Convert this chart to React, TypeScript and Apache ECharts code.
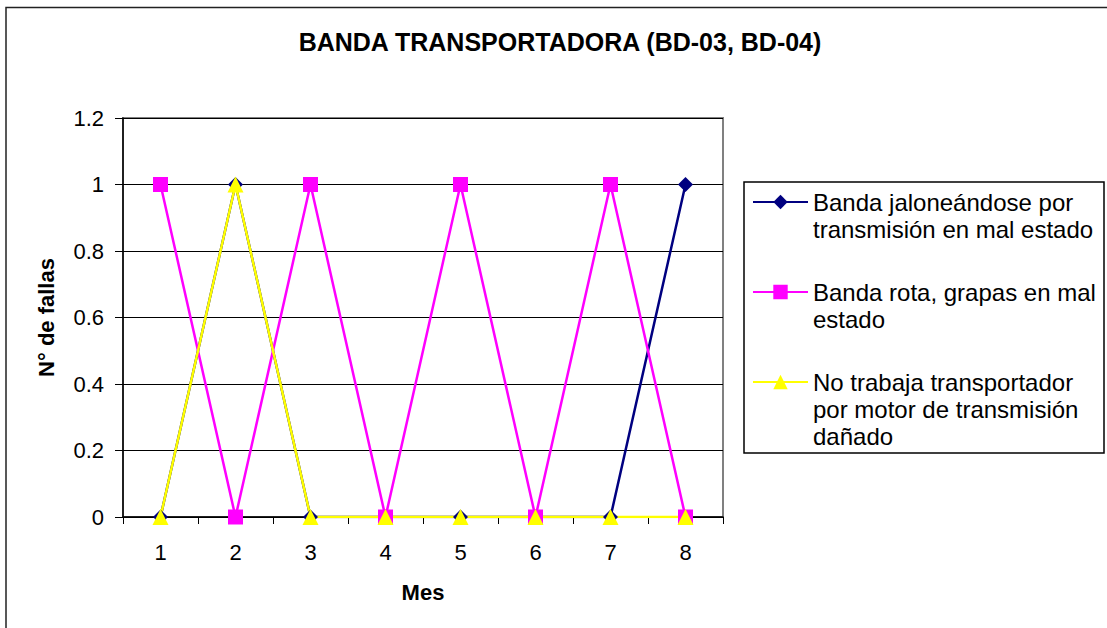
import React, { useEffect, useRef } from "react";
import * as echarts from "echarts";

const months = ["1", "2", "3", "4", "5", "6", "7", "8"];
const seriesNames = [
  "Banda jaloneándose por transmisión en mal estado",
  "Banda rota, grapas en mal estado",
  "No trabaja transportador por motor de transmisión dañado",
];
const legendLines = [
  ["Banda jaloneándose por", "transmisión en mal estado"],
  ["Banda rota, grapas en mal", "estado"],
  ["No trabaja transportador", "por motor de transmisión", "dañado"],
];
const bandaJaloneando = [0, 1, 0, 0, 0, 0, 0, 1];
const bandaRota = [1, 0, 1, 0, 1, 0, 1, 0];
const noTrabaja = [0, 1, 0, 0, 0, 0, 0, 0];
const yMin = 0;
const yMax = 1.2;
const yStep = 0.2;

const FONT = "'Liberation Sans', Arial, sans-serif";

export default function App() {
  const ref = useRef<HTMLDivElement>(null);

  useEffect(() => {
    if (!ref.current) return;
    const chart = echarts.init(ref.current, undefined, { renderer: "svg" });
    const values = [bandaJaloneando, bandaRota, noTrabaja];
    const colors = ["#000080", "#FF00FF", "#FFFF00"];
    const symbols = ["diamond", "rect", "triangle"];
    const symbolSizes = [15, 15, 16];
    const L = 27;
    const iconCenters = [202, 292, 382];

    const legends = seriesNames.map((name, i) => {
      const n = legendLines[i].length;
      // pad with empty lines above so the first text line sits on the icon
      const pad = new Array(n - 1).fill("");
      return {
        data: [name],
        orient: "vertical",
        left: 752,
        top: iconCenters[i] - 9 - (n - 1) * L - L / 2 + 9,
        padding: 0,
        itemWidth: 55,
        itemHeight: 18,
        itemGap: 0,
        selectedMode: false,
        formatter: () => pad.concat(legendLines[i]).join("\n"),
        textStyle: {
          fontFamily: FONT,
          fontSize: 24,
          lineHeight: L,
          color: "#000",
        },
      };
    });

    chart.setOption({
      animation: false,
      backgroundColor: "#fff",
      textStyle: { fontFamily: FONT },
      title: {
        text: "BANDA TRANSPORTADORA (BD-03, BD-04)",
        left: 560,
        top: 29,
        padding: 0,
        textAlign: "center",
        textStyle: {
          fontFamily: FONT,
          fontSize: 25,
          lineHeight: 25,
          fontWeight: "bold",
          color: "#000",
        },
      },
      graphic: [
        {
          type: "rect",
          shape: { x: 6, y: 7.5, width: 1130, height: 640 },
          style: { fill: "none", stroke: "#222", lineWidth: 1.5 },
          silent: true,
        },
        {
          type: "rect",
          shape: { x: 744, y: 182, width: 360, height: 271 },
          style: { fill: "none", stroke: "#000", lineWidth: 1.5 },
          silent: true,
        },
      ],
      legend: legends,
      grid: {
        left: 123,
        top: 118,
        width: 600,
        height: 399,
        show: true,
        borderColor: "#808080",
        borderWidth: 2,
        backgroundColor: "#fff",
      },
      xAxis: {
        type: "category",
        data: months,
        boundaryGap: true,
        name: "Mes",
        nameLocation: "middle",
        nameGap: 64,
        nameTextStyle: {
          fontFamily: FONT,
          fontSize: 22,
          fontWeight: "bold",
          color: "#000",
        },
        axisLine: { lineStyle: { color: "#000", width: 1.5 } },
        axisTick: { show: true, length: 7, lineStyle: { color: "#000", width: 1 } },
        axisLabel: {
          margin: 24,
          fontFamily: FONT,
          fontSize: 22,
          color: "#000",
        },
        splitLine: { show: false },
      },
      yAxis: {
        type: "value",
        min: yMin,
        max: yMax,
        interval: yStep,
        name: "N° de fallas",
        nameLocation: "middle",
        nameGap: 66,
        nameTextStyle: {
          fontFamily: FONT,
          fontSize: 22,
          fontWeight: "bold",
          color: "#000",
        },
        axisLine: { show: true, lineStyle: { color: "#000", width: 1.5 } },
        axisTick: { show: true, length: 8, lineStyle: { color: "#000", width: 1 } },
        axisLabel: {
          margin: 19,
          fontFamily: FONT,
          fontSize: 22,
          color: "#000",
          formatter: (v: number) => String(Number(v.toFixed(1))),
        },
        splitLine: { show: true, lineStyle: { color: "#000", width: 1 } },
      },
      series: seriesNames.map((name, i) => ({
        name,
        type: "line",
        data: values[i],
        symbol: symbols[i],
        symbolSize: symbolSizes[i],
        showAllSymbol: true,
        color: colors[i],
        lineStyle: { color: colors[i], width: 2.5 },
        itemStyle: { color: colors[i] },
        emphasis: { disabled: true },
      })),
    });

    return () => chart.dispose();
  }, []);

  return (
    <div
      ref={ref}
      style={{
        position: "absolute",
        left: 0,
        top: 0,
        width: 1107,
        height: 628,
        background: "#fff",
      }}
    />
  );
}
